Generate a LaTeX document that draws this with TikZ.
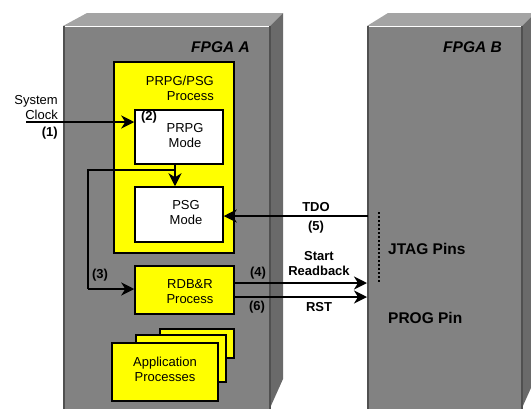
\documentclass[tikz,border=0pt]{standalone}
\usepackage{fontspec}
\setmainfont{Liberation Sans}
\usetikzlibrary{arrows.meta}
\definecolor{frontgray}{HTML}{828282}
\definecolor{topgray}{HTML}{A4A4A4}
\definecolor{sidegray}{HTML}{6A6A6A}
\definecolor{edgegray}{HTML}{505050}
\definecolor{ylw}{HTML}{FFFF00}
\begin{document}
\begin{tikzpicture}[x=1pt,y=-1pt,
  ybox/.style={draw=black, line width=1.5pt, fill=ylw, inner sep=0pt},
  wbox/.style={draw=black, line width=1.5pt, fill=white, inner sep=0pt},
  txt/.style={font=\fontsize{13}{15}\selectfont, align=center, inner sep=0pt},
  lbl/.style={font=\bfseries\fontsize{13}{15}\selectfont, align=center, inner sep=0pt},
  big/.style={font=\bfseries\fontsize{15.5}{18}\selectfont, inner sep=0pt},
  arr/.style={line width=2pt, -{Stealth[length=13pt,width=13pt,inset=4pt]}},
  wire/.style={line width=2pt}]
\useasboundingbox (0,0) rectangle (531,408);
\begin{scope}
\clip (0,0) rectangle (531,408);
% FPGA A slab
\fill[topgray] (63,26) -- (87,13) -- (283,13) -- (270,26) -- cycle;
\fill[sidegray] (270,26) -- (283,13) -- (283,379) -- (270,408) -- cycle;
\fill[frontgray] (63,26) rectangle (270,410);
\draw[edgegray, line width=2pt] (64,26) -- (64,410);
\draw[edgegray, line width=1.5pt] (270,26) -- (270,410);
\draw[white, line width=1.5pt] (65,26.5) -- (269,26.5);
% FPGA B slab
\fill[topgray] (367,26) -- (388,13) -- (535,13) -- (522,26) -- cycle;
\fill[sidegray] (522,26) -- (535,13) -- (535,379) -- (522,408) -- cycle;
\fill[frontgray] (367,26) rectangle (522,410);
\draw[edgegray, line width=2pt] (368,26) -- (368,410);
\draw[edgegray, line width=1.5pt] (522,26) -- (522,410);
\draw[white, line width=1.5pt] (369,26.5) -- (521,26.5);
\end{scope}
\node[big, font=\bfseries\itshape\fontsize{15.5}{18}\selectfont, anchor=east] (fa) at (250,47) {FPGA A};
\node[big, font=\bfseries\itshape\fontsize{15.5}{18}\selectfont, anchor=east] (fb) at (502,47) {FPGA B};

% PRPG/PSG process box
\node[ybox, minimum width=120pt, minimum height=191pt] (pp) at (174,157.5) {};
\node[txt, align=right, anchor=east] (ppt) at (214,88) {PRPG/PSG\\Process};
\node[wbox, minimum width=88pt, minimum height=54pt] (prpg) at (179,137) {};
\node[txt] (prpgt) at (185,136) {PRPG\\Mode};
\node[lbl] (n2) at (149,117) {(2)};
\node[wbox, minimum width=88pt, minimum height=55pt] (psg) at (179,214.5) {};
\node[txt] (psgt) at (186,212.5) {PSG\\Mode};

% RDB&R
\node[ybox, minimum width=99pt, minimum height=48pt] (rdb) at (184.5,290) {};
\node[txt] (rdbt) at (190,291.5) {RDB\&R\\Process};

% Application processes
\node[ybox, minimum width=74pt, minimum height=29pt] (app3) at (197,343.5) {};
\node[ybox, minimum width=90pt, minimum height=47pt] (app2) at (181,358.5) {};
\node[ybox, minimum width=106pt, minimum height=58pt] (app1) at (165,372) {};
\node[txt] (appt) at (165,369.5) {Application\\Processes};

% System clock
\node[txt, align=right, anchor=east] (sc) at (58,107.5) {System\\Clock};
\node[lbl, anchor=east] (n1) at (58,133) {(1)};
\coordinate (clk) at (26,122);
\draw[arr] (clk) -- (prpg.west |- clk);

% PRPG -> PSG, and branch to RDB&R
\coordinate (br) at (175,170);
\draw[arr] (prpg.south -| br) -- (psg.north -| br);
\draw[wire, line width=1.5pt] (br) -- (88,170) -- (88,289);
\draw[arr] (88,289) -- (rdb.west |- 0,289);
\node[lbl] (n3) at (100,275) {(3)};

% TDO
\coordinate (tdo) at (368,216);
\draw[arr, line width=1.5pt] (tdo) -- (psg.east |- tdo);
\node[lbl] (tdol) at (316,207.5) {TDO};
\node[lbl] (n5) at (316,227) {(5)};

% Start Readback
\coordinate (sr) at (367,283);
\draw[arr] (rdb.east |- sr) -- (sr);
\node[lbl] (n4) at (258,273) {(4)};
\node[lbl] (srl) at (319,263.5) {Start\\Readback};

% RST
\coordinate (rst) at (367,297);
\draw[arr, line width=1.5pt] (rdb.east |- rst) -- (rst);
\node[lbl] (n6) at (257,307) {(6)};
\node[lbl] (rstl) at (319,307) {RST};

% JTAG pins
\coordinate (d1) at (379,212);
\coordinate (d2) at (379,283);
\draw[black, line width=2pt, dash pattern=on 2pt off 2pt] (d1) -- (d2);
\node[big, anchor=west] (jtag) at (388,249) {JTAG Pins};
\node[big, anchor=west] (prog) at (388,318) {PROG Pin};
\end{tikzpicture}
\end{document}
